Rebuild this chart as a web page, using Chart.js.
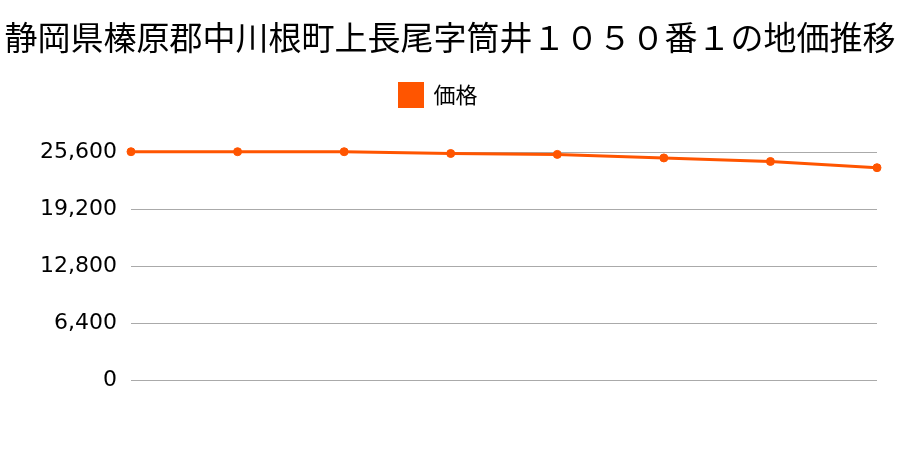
<!DOCTYPE html>
<html>
<head>
<meta charset="utf-8">
<script src="https://cdn.jsdelivr.net/npm/chart.js@4"></script>
<style>
  html, body { margin: 0; padding: 0; background: #fff; }
  #box { width: 900px; height: 450px; }
</style>
</head>
<body>
<div id="box"><canvas id="chart"></canvas></div>
<script>
const titleText = "静岡県榛原郡中川根町上長尾字筒井１０５０番１の地価推移";
const seriesName = "価格";
const years = ["1", "2", "3", "4", "5", "6", "7", "8"];
const prices = [25700, 25700, 25700, 25500, 25400, 25000, 24600, 23900];
const yTicks = [0, 6400, 12800, 19200, 25600];

const orange = "#ff5500";
const cjk = "'Noto Sans CJK JP', 'Noto Sans', sans-serif";

// legend sits centred over the area left of the right gutter
const legendShift = {
  id: "legendShift",
  afterLayout(chart) {
    const lg = chart.legend;
    if (lg) {
      lg.left -= 11.5;
      lg.right -= 11.5;
    }
  },
};

new Chart(document.getElementById("chart"), {
  type: "line",
  plugins: [legendShift],
  data: {
    labels: years,
    datasets: [
      {
        label: seriesName,
        data: prices,
        borderColor: orange,
        backgroundColor: orange,
        borderWidth: 3,
        pointRadius: 4,
        pointBorderWidth: 1,
        pointBackgroundColor: orange,
        pointBorderColor: orange,
        tension: 0,
        clip: false,
      },
    ],
  },
  options: {
    responsive: true,
    maintainAspectRatio: false,
    animation: false,
    layout: { padding: { left: 0, right: 0, top: 0, bottom: 70 } },
    plugins: {
      title: {
        display: true,
        text: titleText,
        color: "#000",
        font: { family: cjk, size: 33, weight: "normal" },
        padding: { top: 18, bottom: 0 },
      },
      legend: {
        display: true,
        labels: {
          color: "#000",
          font: { family: cjk, size: 22 },
          boxWidth: 23,
          boxHeight: 23,
          padding: 26,
        },
      },
      subtitle: {
        display: true,
        text: " ",
        weight: 500,
        font: { size: 10 },
        padding: { top: 24, bottom: 0 },
      },
      tooltip: { enabled: false },
    },
    scales: {
      x: {
        display: false,
        offset: false,
      },
      y: {
        min: 0,
        max: 25600,
        afterBuildTicks: (scale) => {
          scale.ticks = yTicks.map((v) => ({ value: v }));
        },
        afterFit: (scale) => {
          scale.width = 131;
        },
        ticks: {
          color: "#000",
          padding: 14,
          font: { family: "'DejaVu Sans', sans-serif", size: 22 },
          callback: (v) => v.toLocaleString("en-US"),
        },
        grid: {
          color: "#aaaaaa",
          lineWidth: 1,
          drawTicks: false,
        },
        border: { display: false },
      },
      y2: {
        position: "right",
        display: true,
        ticks: { display: false },
        grid: { display: false },
        border: { display: false },
        afterFit: (scale) => {
          scale.width = 23;
        },
      },
    },
  },
});
</script>
</body>
</html>
